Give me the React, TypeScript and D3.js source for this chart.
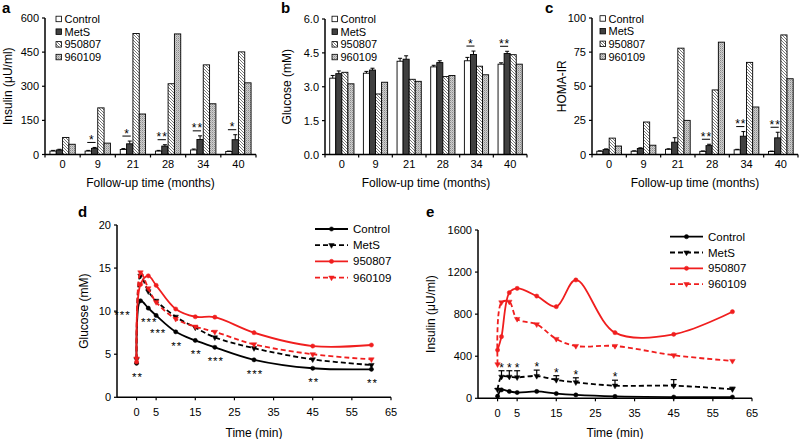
import React from 'react';
import * as d3 from 'd3';

// ---------- Bar panels (a, b, c) ----------
const months = ['0', '9', '21', '28', '34', '40'];
const groups = ['Control', 'MetS', '950807', '960109'];

const insulinControl = [15, 15, 22, 15, 20, 13];
const insulinControlErr = [3, 3, 4, 3, 4, 2];
const insulinMetS = [20, 27, 47, 37, 66, 65];
const insulinMetSErr = [3, 4, 12, 6, 16, 22];
const insulin950807 = [75, 205, 532, 311, 394, 451];
const insulin960109 = [45, 50, 178, 530, 223, 315];
const insulinSig = [
  { month: '9', label: '*' },
  { month: '21', label: '*' },
  { month: '28', label: '**' },
  { month: '34', label: '**' },
  { month: '40', label: '*' },
];
const insulinTicks = [0, 150, 300, 450, 600];

const glucoseControl = [3.38, 3.6, 4.13, 3.88, 4.15, 4.0];
const glucoseControlErr = [0.12, 0.08, 0.13, 0.07, 0.15, 0.06];
const glucoseMetS = [3.58, 3.74, 4.22, 4.07, 4.43, 4.47];
const glucoseMetSErr = [0.12, 0.08, 0.15, 0.08, 0.15, 0.1];
const glucose950807 = [3.64, 2.68, 3.33, 3.45, 3.91, 4.42];
const glucose960109 = [3.13, 3.2, 3.24, 3.5, 3.53, 4.0];
const glucoseSig = [
  { month: '34', label: '*' },
  { month: '40', label: '**' },
];
const glucoseTicks = [0, 1.5, 3, 4.5, 6];

const homaControl = [2.4, 2.4, 3.8, 2.3, 3.4, 2.2];
const homaControlErr = [0.3, 0.3, 0.4, 0.3, 0.4, 0.3];
const homaMetS = [3.6, 4.4, 9.0, 6.5, 13.4, 12.2];
const homaMetSErr = [0.5, 0.5, 3.3, 1.0, 3.4, 4.1];
const homa950807 = [12, 23.8, 77.9, 47.3, 67.5, 87.6];
const homa960109 = [6.2, 6.8, 25, 82.3, 34.8, 55.5];
const homaSig = [
  { month: '28', label: '**' },
  { month: '34', label: '**' },
  { month: '40', label: '**' },
];
const homaTicks = [0, 25, 50, 75, 100];

// ---------- Line panels (d, e) ----------
const times = [0, 1, 3, 5, 10, 15, 20, 30, 45, 60];
const timeTicks = [0, 5, 15, 25, 35, 45, 55, 65];
const lineSeries = ['Control', 'MetS', '950807', '960109'];

const ogttControl = [3.95, 11.2, 10.35, 9.5, 7.6, 6.6, 5.8, 4.35, 3.37, 3.25];
const ogttMetS = [4.4, 14.1, 12.3, 11.2, 9.35, 8.1, 6.95, 5.7, 4.4, 3.75];
const ogtt950807 = [4.1, 13.1, 14.1, 13.0, 10.25, 9.35, 9.3, 7.5, 5.95, 6.07];
const ogtt960109 = [4.5, 14.5, 12.65, 11.05, 9.1, 8.2, 7.6, 6.15, 5.0, 4.4];
const ogttStars = ['**', '***', '***', '***', '**', '**', '***', '***', '**', '**'];
const ogttTicks = [0, 5, 10, 15, 20];

const insControl = [20, 80, 65, 55, 65, 45, 32, 18, 12, 12];
const insMetS = [82, 205, 205, 199, 212, 174, 152, 120, 120, 86];
const insMetSErr = [10, 57, 57, 63, 56, 41, 43, 52, 58, 19];
const ins950807 = [459, 586, 1004, 1045, 972, 871, 1125, 624, 608, 823];
const ins960109 = [323, 912, 918, 754, 703, 564, 497, 497, 409, 355];
const insStars = ['', '*', '*', '*', '*', '*', '*', '*', '', ''];
const insTicks = [0, 400, 800, 1200, 1600];

const FONT = '"Liberation Sans", Arial, Helvetica, sans-serif';
const RED = '#f01e1e';
const fills: Record<string, string> = {
  Control: '#ffffff',
  MetS: '#404040',
  '950807': 'url(#hatch)',
  '960109': 'url(#stipple)',
};

type BarProps = {
  letter: string;
  letterX: number;
  x0: number;
  x1: number;
  yTop: number;
  yBot: number;
  max: number;
  ticks: number[];
  fmt: (v: number) => string;
  series: number[][];
  ctrlErr: number[];
  metsErr: number[];
  sigs: { month: string; label: string }[];
  yTitle: string;
  yTitleX: number;
  legendX: number;
  legendY: number;
};

function BarPanel(p: BarProps) {
  const y = d3.scaleLinear().domain([0, p.max]).range([p.yBot, p.yTop]);
  const xb = d3.scaleBand().domain(months).range([p.x0, p.x1]).padding(0);
  const bw = xb.bandwidth();
  const gw = bw * 0.72;
  const xi = d3.scaleBand().domain(groups).range([(bw - gw) / 2, (bw + gw) / 2]).padding(0);
  const w = xi.bandwidth();
  const errs = [p.ctrlErr, p.metsErr];
  const boundaries = d3.range(months.length + 1).map((i) => p.x0 + i * bw);
  return (
    <g fontFamily={FONT}>
      <text x={p.letterX} y={13} fontSize={15} fontWeight="bold">{p.letter}</text>
      {months.map((m, mi) => (
        <g key={m}>
          {groups.map((g, gi) => {
            const v = p.series[gi][mi];
            const bx = (xb(m) as number) + (xi(g) as number);
            return (
              <rect key={g} x={bx} y={y(v)} width={w} height={p.yBot - y(v)}
                fill={fills[g]} stroke="#000" strokeWidth={0.9} />
            );
          })}
          {errs.map((e, gi) => {
            const v = p.series[gi][mi];
            const cx = (xb(m) as number) + (xi(groups[gi]) as number) + w / 2;
            return (
              <g key={gi} stroke="#000" strokeWidth={1}>
                <line x1={cx} x2={cx} y1={y(v)} y2={y(v + e[mi])} />
                <line x1={cx - 2} x2={cx + 2} y1={y(v + e[mi])} y2={y(v + e[mi])} />
              </g>
            );
          })}
        </g>
      ))}
      {p.sigs.map((s) => {
        const mi = months.indexOf(s.month);
        const top = Math.max(p.series[0][mi] + p.ctrlErr[mi], p.series[1][mi] + p.metsErr[mi]);
        const ly = y(top) - 5;
        const c0 = (xb(s.month) as number) + (xi('Control') as number) + w / 2;
        const c1 = (xb(s.month) as number) + (xi('MetS') as number) + w / 2;
        return (
          <g key={s.month}>
            <line x1={c0 - 1} x2={c1 + 1} y1={ly} y2={ly} stroke="#000" strokeWidth={1} />
            <text x={(c0 + c1) / 2 + 0.5} y={ly + 1.5} fontSize={12} textAnchor="middle" letterSpacing={1}>{s.label}</text>
          </g>
        );
      })}
      <line x1={p.x0} x2={p.x0} y1={p.yTop} y2={p.yBot} stroke="#000" strokeWidth={1.5} />
      <line x1={p.x0} x2={p.x1} y1={p.yBot} y2={p.yBot} stroke="#000" strokeWidth={1.5} />
      {p.ticks.map((t) => (
        <g key={t}>
          <line x1={p.x0 - 3} x2={p.x0} y1={y(t)} y2={y(t)} stroke="#000" strokeWidth={1.2} />
          <text x={p.x0 - 6} y={y(t) + 4} fontSize={11} textAnchor="end">{p.fmt(t)}</text>
        </g>
      ))}
      {boundaries.map((bx, i) => (
        <line key={i} x1={bx} x2={bx} y1={p.yBot} y2={p.yBot + 3} stroke="#000" strokeWidth={1.2} />
      ))}
      {months.map((m) => (
        <text key={m} x={(xb(m) as number) + bw / 2} y={p.yBot + 13} fontSize={11} textAnchor="middle">{m}</text>
      ))}
      <text x={(p.x0 + p.x1) / 2} y={187} fontSize={12} textAnchor="middle">Follow-up time (months)</text>
      <text transform={`translate(${p.yTitleX},${(p.yTop + p.yBot) / 2}) rotate(-90)`} fontSize={12} textAnchor="middle">{p.yTitle}</text>
      {groups.map((g, i) => (
        <g key={g}>
          <rect x={p.legendX} y={p.legendY + i * 12.7 - 2.8} width={5.5} height={5.5} fill={fills[g]} stroke="#000" strokeWidth={0.8} />
          <text x={p.legendX + 8.5} y={p.legendY + i * 12.7 + 4} fontSize={11}>{g}</text>
        </g>
      ))}
    </g>
  );
}

type LineProps = {
  letter: string;
  letterX: number;
  x0: number;
  x1: number;
  yTop: number;
  yBot: number;
  max: number;
  ticks: number[];
  series: number[][];
  metsErr?: number[];
  stars: string[];
  starMode: 'below' | 'above';
  yTitle: string;
  yTitleX: number;
  legendX: number;
  legendY: number;
  legendStep: number;
};

const styles = [
  { color: '#000', dash: undefined as string | undefined, marker: 'circle' },
  { color: '#000', dash: '5,3', marker: 'triangle' },
  { color: RED, dash: undefined as string | undefined, marker: 'circle' },
  { color: RED, dash: '5,3', marker: 'triangle' },
];

function Marker({ x, y, type, color }: { x: number; y: number; type: string; color: string }) {
  const sym = d3.symbol().type(type === 'circle' ? d3.symbolCircle : d3.symbolTriangle).size(type === 'circle' ? 14 : 13);
  return <path d={sym() as string} transform={`translate(${x},${y}) rotate(${type === 'circle' ? 0 : 180})`} fill={color} stroke={color} strokeWidth={0.5} />;
}

function LinePanel(p: LineProps) {
  const x = d3.scaleLinear().domain([-5, 65]).range([p.x0, p.x1]);
  const y = d3.scaleLinear().domain([0, p.max]).range([p.yBot, p.yTop]);
  const line = d3.line<number>().x((_, i) => x(times[i])).y((v) => y(v)).curve(d3.curveCatmullRom.alpha(0.5));
  return (
    <g fontFamily={FONT}>
      <text x={p.letterX} y={217} fontSize={15} fontWeight="bold">{p.letter}</text>
      {p.series.map((s, si) => (
        <g key={si}>
          <path d={line(s) as string} fill="none" stroke={styles[si].color} strokeWidth={1.8} strokeDasharray={styles[si].dash} />
          {s.map((v, i) => (
            <Marker key={i} x={x(times[i])} y={y(v)} type={styles[si].marker} color={styles[si].color} />
          ))}
        </g>
      ))}
      {p.metsErr && p.metsErr.map((e, i) => {
        const v = p.series[1][i];
        const cx = x(times[i]);
        return (
          <g key={i} stroke="#000" strokeWidth={1.2}>
            <line x1={cx} x2={cx} y1={y(v)} y2={y(v + e)} />
            <line x1={cx - 3} x2={cx + 3} y1={y(v + e)} y2={y(v + e)} />
          </g>
        );
      })}
      {p.stars.map((s, i) => {
        if (!s) return null;
        if (p.starMode === 'below') {
          const v = p.series[0][i];
          const dx = times[i] === 1 ? -18 : times[i] === 5 ? 2 : 1;
          const dy = times[i] === 1 ? 18 : times[i] === 5 ? 22 : 18;
          return <text key={i} x={x(times[i]) + dx} y={y(v) + dy} fontSize={11.5} textAnchor="middle" letterSpacing={1}>{s}</text>;
        }
        const top = p.series[1][i] + (p.metsErr ? p.metsErr[i] : 0);
        return <text key={i} x={x(times[i])} y={y(top) + 1} fontSize={12} textAnchor="middle">{s}</text>;
      })}
      <line x1={p.x0} x2={p.x0} y1={p.yTop} y2={p.yBot} stroke="#000" strokeWidth={1.5} />
      <line x1={p.x0} x2={p.x1} y1={p.yBot} y2={p.yBot} stroke="#000" strokeWidth={1.5} />
      {p.ticks.map((t) => (
        <g key={t}>
          <line x1={p.x0 - 3} x2={p.x0} y1={y(t)} y2={y(t)} stroke="#000" strokeWidth={1.2} />
          <text x={p.x0 - 6} y={y(t) + 4} fontSize={11} textAnchor="end">{t}</text>
        </g>
      ))}
      {timeTicks.map((t) => (
        <g key={t}>
          <line x1={x(t)} x2={x(t)} y1={p.yBot} y2={p.yBot + 3} stroke="#000" strokeWidth={1.2} />
          <text x={x(t)} y={p.yBot + 19} fontSize={11} textAnchor="middle">{t}</text>
        </g>
      ))}
      <text x={(p.x0 + p.x1) / 2} y={437} fontSize={12} textAnchor="middle">Time (min)</text>
      <text transform={`translate(${p.yTitleX},${(p.yTop + p.yBot) / 2}) rotate(-90)`} fontSize={12} textAnchor="middle">{p.yTitle}</text>
      {lineSeries.map((g, i) => {
        const ly = p.legendY + i * p.legendStep;
        return (
          <g key={g}>
            <line x1={p.legendX} x2={p.legendX + 33} y1={ly} y2={ly} stroke={styles[i].color} strokeWidth={1.8} strokeDasharray={styles[i].dash} />
            <Marker x={p.legendX + 16.5} y={ly} type={styles[i].marker} color={styles[i].color} />
            <text x={p.legendX + 38} y={ly + 4} fontSize={11.5}>{g}</text>
          </g>
        );
      })}
    </g>
  );
}

export default function App() {
  return (
    <svg width={800} height={439} style={{ position: 'absolute', left: 0, top: 0, background: '#fff' }}>
      <defs>
        <pattern id="hatch" patternUnits="userSpaceOnUse" width={3} height={3}>
          <rect width={3} height={3} fill="#fff" />
          <path d="M-1,-1 L4,4 M-1,2 L1,4 M2,-1 L4,1" stroke="#6a6a6a" strokeWidth={0.9} />
        </pattern>
        <pattern id="stipple" patternUnits="userSpaceOnUse" width={2} height={2}>
          <rect width={2} height={2} fill="#cfcfcf" />
          <rect width={1} height={1} fill="#8a8a8a" />
          <rect x={1} y={1} width={1} height={1} fill="#b0b0b0" />
        </pattern>
      </defs>
      <BarPanel letter="a" letterX={2} x0={45} x1={256} yTop={18} yBot={154.5} max={600}
        ticks={insulinTicks} fmt={(v) => String(v)}
        series={[insulinControl, insulinMetS, insulin950807, insulin960109]}
        ctrlErr={insulinControlErr} metsErr={insulinMetSErr} sigs={insulinSig}
        yTitle="Insulin (μU/ml)" yTitleX={12} legendX={56} legendY={19} />
      <BarPanel letter="b" letterX={281} x0={325} x1={527} yTop={19} yBot={154.5} max={6}
        ticks={glucoseTicks} fmt={(v) => v.toFixed(1)}
        series={[glucoseControl, glucoseMetS, glucose950807, glucose960109]}
        ctrlErr={glucoseControlErr} metsErr={glucoseMetSErr} sigs={glucoseSig}
        yTitle="Glucose (mM)" yTitleX={291} legendX={332} legendY={19} />
      <BarPanel letter="c" letterX={545} x0={592} x1={798} yTop={18} yBot={154.5} max={100}
        ticks={homaTicks} fmt={(v) => String(v)}
        series={[homaControl, homaMetS, homa950807, homa960109]}
        ctrlErr={homaControlErr} metsErr={homaMetSErr} sigs={homaSig}
        yTitle="HOMA-IR" yTitleX={566} legendX={600} legendY={18.5} />
      <LinePanel letter="d" letterX={78} x0={117} x1={391} yTop={225} yBot={397.3} max={20}
        ticks={ogttTicks} series={[ogttControl, ogttMetS, ogtt950807, ogtt960109]}
        stars={ogttStars} starMode="below" yTitle="Glucose (mM)" yTitleX={88}
        legendX={315} legendY={229} legendStep={16.2} />
      <LinePanel letter="e" letterX={426} x0={478} x1={752} yTop={230} yBot={398.3} max={1600}
        ticks={insTicks} series={[insControl, insMetS, ins950807, ins960109]} metsErr={insMetSErr}
        stars={insStars} starMode="above" yTitle="Insulin (μU/ml)" yTitleX={435}
        legendX={670} legendY={236.7} legendStep={15.8} />
    </svg>
  );
}
